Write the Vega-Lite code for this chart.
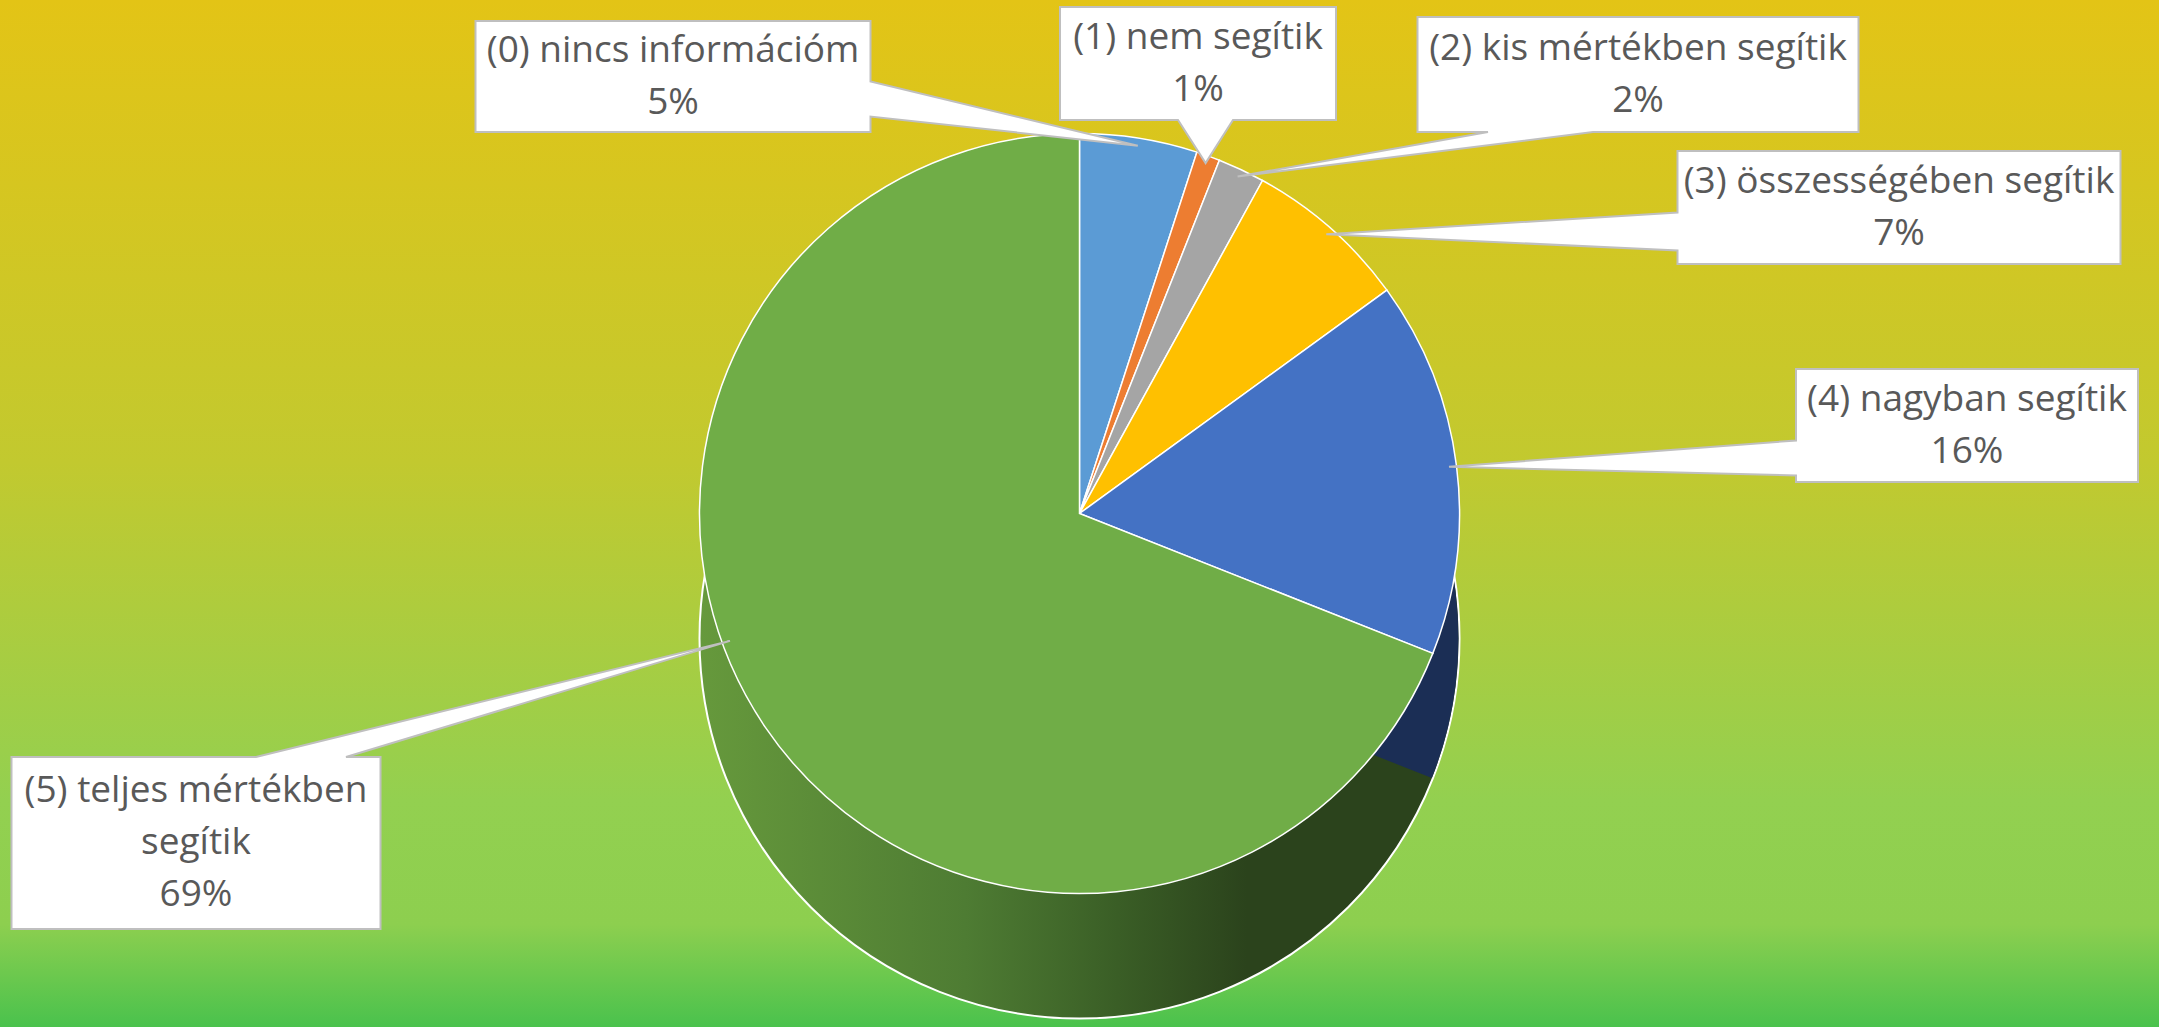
{
  "$schema": "https://vega.github.io/schema/vega-lite/v6.json",
  "width": 2159,
  "height": 1027,
  "padding": 0,
  "autosize": {"type": "fit", "contains": "padding"},
  "view": {
    "stroke": null,
    "fill": {
      "gradient": "linear",
      "x1": 0, "y1": 0, "x2": 0, "y2": 1,
      "stops": [
        {"offset": 0, "color": "#E3C416"},
        {"offset": 0.45, "color": "#C2C92F"},
        {"offset": 0.78, "color": "#93D050"},
        {"offset": 0.9, "color": "#8DCF4F"},
        {"offset": 1, "color": "#4AC24D"}
      ]
    }
  },
  "data": {
    "values": [
      {"category": "(0) nincs információm", "value": 5, "label": "(0) nincs információm\n5%"},
      {"category": "(1) nem segítik", "value": 1, "label": "(1) nem segítik\n1%"},
      {"category": "(2) kis mértékben segítik", "value": 2, "label": "(2) kis mértékben segítik\n2%"},
      {"category": "(3) összességében segítik", "value": 7, "label": "(3) összességében segítik\n7%"},
      {"category": "(4) nagyban segítik", "value": 16, "label": "(4) nagyban segítik\n16%"},
      {"category": "(5) teljes mértékben segítik", "value": 69, "label": "(5) teljes mértékben\nsegítik\n69%"}
    ]
  },
  "layer": [
    {
      "mark": {
        "type": "arc", "radius": 380, "yOffset": 125, "stroke": "white", "strokeWidth": 2,
        "fill": {
          "gradient": "linear", "x1": 0, "y1": 0, "x2": 1, "y2": 0,
          "stops": [
            {"offset": 0, "color": "#66993C"},
            {"offset": 0.35, "color": "#4E7C33"},
            {"offset": 0.55, "color": "#3A5E26"},
            {"offset": 0.72, "color": "#2B431C"},
            {"offset": 1, "color": "#2B431C"}
          ]
        }
      },
      "encoding": {
        "theta": {"aggregate": "sum", "field": "value", "type": "quantitative"}
      }
    },
    {
      "mark": {"type": "arc", "radius": 379, "yOffset": 125, "strokeWidth": 0},
      "encoding": {
        "theta": {"field": "value", "type": "quantitative", "stack": true},
        "order": {"field": "category", "type": "ordinal"},
        "fill": {
          "condition": {"test": "datum.category === '(4) nagyban segítik'", "value": "#1B2E55"},
          "value": "transparent"
        }
      }
    },
    {
      "mark": {"type": "arc", "radius": 380, "stroke": "white", "strokeWidth": 1.5},
      "encoding": {
        "theta": {"field": "value", "type": "quantitative", "stack": true},
        "order": {"field": "category", "type": "ordinal"},
        "color": {
          "field": "category", "type": "nominal", "legend": null,
          "scale": {
            "domain": ["(0) nincs információm", "(1) nem segítik", "(2) kis mértékben segítik", "(3) összességében segítik", "(4) nagyban segítik", "(5) teljes mértékben segítik"],
            "range": ["#5B9BD5", "#ED7D31", "#A5A5A5", "#FFC000", "#4472C4", "#70AD47"]
          }
        }
      }
    },
    {
      "mark": {"type": "point", "filled": true, "fill": "white", "fillOpacity": 1, "opacity": 1, "stroke": "#BFBFBF", "strokeWidth": 2, "size": 40000},
      "encoding": {
        "x": {"field": "value", "type": "quantitative", "axis": null,
          "scale": {"domain": [1, 2, 5, 7, 16, 69], "range": [1198, 1638, 673, 1899, 1967, 196], "nice": false, "zero": false}},
        "y": {"field": "value", "type": "quantitative", "axis": null,
          "scale": {"domain": [1, 2, 5, 7, 16, 69], "range": [63.5, 74.5, 76.5, 207.5, 425.5, 843], "nice": false, "zero": false}},
        "shape": {
          "field": "category", "type": "nominal", "legend": null,
          "scale": {
            "domain": ["(0) nincs információm", "(1) nem segítik", "(2) kis mértékben segítik", "(3) összességében segítik", "(4) nagyban segítik", "(5) teljes mértékben segítik"],
            "range": [
              "M-1.975,-0.555L1.975,-0.555L1.975,0.05L4.648,0.692L1.975,0.4L1.975,0.555L-1.975,0.555Z",
              "M-1.38,-0.565L1.38,-0.565L1.38,0.565L0.35,0.565L0.076,0.996L-0.2,0.565L-1.38,0.565Z",
              "M-2.205,-0.575L2.205,-0.575L2.205,0.575L-0.45,0.575L-4.004,1.02L-1.5,0.575L-2.205,0.575Z",
              "M-2.215,-0.565L2.215,-0.565L2.215,0.565L-2.215,0.565L-2.215,0.43L-5.727,0.267L-2.215,0.05Z",
              "M-1.71,-0.565L1.71,-0.565L1.71,0.565L-1.71,0.565L-1.71,0.5L-5.18,0.413L-1.71,0.15Z",
              "M-1.845,-0.86L0.6,-0.86L5.34,-2.021L1.5,-0.86L1.845,-0.86L1.845,0.86L-1.845,0.86Z"
            ]
          }
        }
      }
    },
    {
      "mark": {"type": "text", "font": "Open Sans", "fontSize": 37, "lineHeight": 52, "lineBreak": "\n", "color": "#595959", "align": "center", "baseline": "middle"},
      "encoding": {
        "x": {"field": "value", "type": "quantitative", "axis": null},
        "y": {"field": "value", "type": "quantitative", "axis": null,
          "scale": {"domain": [1, 2, 5, 7, 16, 69], "range": [37.5, 48.5, 50.5, 181.5, 399.5, 791], "nice": false, "zero": false}},
        "text": {"field": "label", "type": "nominal"}
      }
    }
  ],
  "resolve": {"scale": {"y": "independent"}},
  "config": {"view": {"stroke": null}}
}
